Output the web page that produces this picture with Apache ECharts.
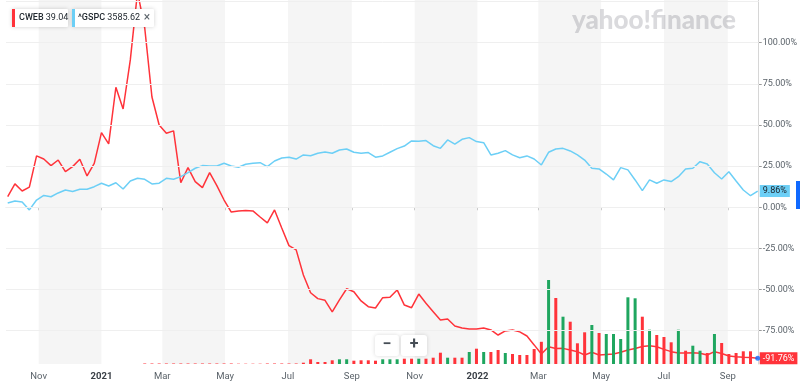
<!DOCTYPE html>
<html>
<head>
<meta charset="utf-8">
<script src="https://cdn.jsdelivr.net/npm/echarts@6/dist/echarts.min.js"></script>
<style>
html,body{margin:0;padding:0;background:#fff;}
#chart{width:800px;height:386px;}
</style>
</head>
<body>
<div id="chart"></div>
<script>
// Weekly dates (Fridays)
const dates = [
'2020-10-02','2020-10-09','2020-10-16','2020-10-23','2020-10-30','2020-11-06','2020-11-13','2020-11-20','2020-11-27','2020-12-04','2020-12-11','2020-12-18','2020-12-25',
'2021-01-01','2021-01-08','2021-01-15','2021-01-22','2021-01-29','2021-02-05','2021-02-12','2021-02-19','2021-02-26','2021-03-05','2021-03-12','2021-03-19','2021-03-26',
'2021-04-02','2021-04-09','2021-04-16','2021-04-23','2021-04-30','2021-05-07','2021-05-14','2021-05-21','2021-05-28','2021-06-04','2021-06-11','2021-06-18','2021-06-25',
'2021-07-02','2021-07-09','2021-07-16','2021-07-23','2021-07-30','2021-08-06','2021-08-13','2021-08-20','2021-08-27','2021-09-03','2021-09-10','2021-09-17','2021-09-24',
'2021-10-01','2021-10-08','2021-10-15','2021-10-22','2021-10-29','2021-11-05','2021-11-12','2021-11-19','2021-11-26','2021-12-03','2021-12-10','2021-12-17','2021-12-24','2021-12-31',
'2022-01-07','2022-01-14','2022-01-21','2022-01-28','2022-02-04','2022-02-11','2022-02-18','2022-02-25','2022-03-04','2022-03-11','2022-03-18','2022-03-25',
'2022-04-01','2022-04-08','2022-04-15','2022-04-22','2022-04-29','2022-05-06','2022-05-13','2022-05-20','2022-05-27','2022-06-03','2022-06-10','2022-06-17','2022-06-24',
'2022-07-01','2022-07-08','2022-07-15','2022-07-22','2022-07-29','2022-08-05','2022-08-12','2022-08-19','2022-08-26','2022-09-02','2022-09-09','2022-09-16','2022-09-23','2022-09-30'
];

// CWEB % change
const cwebPct = [
6.5, 14.2, 9.9, 12.2, 31.2, 29.3, 25.3, 28.7, 21.6, 24.7, 29.2, 19.0, 26.7,
45.3, 38.5, 72.9, 59.7, 89.5, 130.8, 108.9, 67.0, 50.0, 45.0, 46.4, 14.9, 24.1,
15.6, 11.9, 21.0, 13.1, 4.4, -2.9, -2.2, -1.9, -2.2, -5.9, -9.5, -1.6, -12.6,
-23.3, -25.9, -41.1, -51.9, -55.5, -56.5, -63.6, -56.3, -49.5, -51.3, -56.9, -60.4, -61.2,
-54.9, -54.7, -50.2, -59.4, -61.0, -52.7, -58.3, -63.4, -68.5, -67.9, -72.1, -73.3, -73.9, -73.9,
-73.3, -74.5, -77.6, -75.1, -74.5, -75.7, -78.2, -83.6, -89.1, -84.7, -85.8, -85.7,
-86.7, -87.7, -89.7, -88.1, -89.7, -89.4, -89.1, -88.1, -86.7, -85.8, -84.6, -84.1, -84.7,
-86.3, -87.7, -88.5, -88.5, -88.3, -88.7, -89.7, -87.7, -88.8, -90.3, -90.8, -91.1, -91.2, -91.76
];

// ^GSPC % change
const spxPct = [
2.6, 3.8, 3.2, -1.6, 4.4, 7.2, 6.4, 8.7, 10.5, 9.6, 10.9, 10.9, 12.5,
14.6, 12.9, 14.9, 11.1, 16.0, 17.6, 17.0, 14.2, 14.6, 17.6, 17.0, 18.6, 21.0,
23.7, 25.3, 25.1, 25.1, 26.7, 25.1, 24.3, 26.1, 26.7, 27.1, 24.7, 28.1, 29.9,
30.4, 29.3, 31.8, 31.3, 32.8, 33.6, 32.8, 34.8, 35.4, 33.4, 32.8, 33.2, 30.4,
31.2, 33.4, 35.6, 37.2, 40.3, 40.1, 40.5, 37.4, 35.8, 40.9, 38.3, 41.3, 42.3, 39.9,
39.2, 31.8, 32.8, 34.4, 31.8, 30.1, 31.2, 29.3, 25.7, 33.4, 35.4, 35.8,
34.2, 31.8, 28.7, 23.7, 23.3, 20.2, 16.6, 24.1, 22.7, 16.6, 10.1, 16.6, 14.6,
16.6, 15.6, 18.6, 23.3, 23.7, 27.7, 26.3, 21.0, 17.2, 21.6, 16.0, 10.5, 7.0, 9.86
];

// CWEB weekly volume (thousands of shares)
const cwebVolume = [
0, 0, 0, 0, 0, 0, 0, 0, 0, 0, 0, 0, 0,
0, 0, 0, 0, 0, 0, 5, 5, 5, 5, 5, 5, 5,
5, 5, 5, 5, 5, 5, 3, 3, 3, 3, 5, 5, 5,
5, 5, 13, 47, 20, 20, 37, 47, 47, 33, 37, 37, 33,
47, 47, 47, 53, 53, 53, 53, 63, 113, 63, 63, 63, 120, 153,
120, 120, 140, 110, 100, 90, 90, 150, 222, 840, 660, 473,
423, 207, 317, 390, 310, 300, 300, 250, 667, 657, 473, 343, 290,
270, 217, 343, 133, 183, 133, 110, 300, 210, 100, 110, 127, 127, 0
];

// 1 = up week (green), 0 = down week (red)
const volumeUp = [
0,0,0,0,0,0,0,0,0,0,0,0,0,
0,0,0,0,0,0,0,0,0,0,0,0,0,
0,0,0,0,0,0,0,0,0,0,0,0,0,
0,0,0,0,0,0,0,1,1,0,0,0,0,
1,1,1,0,0,1,0,0,0,1,0,0,1,0,
1,0,0,1,0,0,0,0,0,1,0,1,
0,0,0,1,0,1,1,1,1,1,0,1,0,
0,0,1,0,1,1,0,1,0,0,0,0,0,0
];

const yLabelTicks = [-75, -50, -25, 0, 25, 50, 75, 100];
const yGridTicks = [-75, -50, -25, 0, 25, 50, 75, 100, 125];
const xTickDates = ['2020-11-01','2021-01-01','2021-03-01','2021-05-01','2021-07-01','2021-09-01',
                    '2021-11-01','2022-01-01','2022-03-01','2022-05-01','2022-07-01','2022-09-01'];
const bands = [['2020-11-01','2021-01-01'],['2021-03-01','2021-05-01'],['2021-07-01','2021-09-01'],
               ['2021-11-01','2022-01-01'],['2022-03-01','2022-05-01'],['2022-07-01','2022-09-01']];
const symbols = ['CWEB', '^GSPC'];
const lastPrices = ['39.04', '3585.62'];
const monthNames = ['Jan','Feb','Mar','Apr','May','Jun','Jul','Aug','Sep','Oct','Nov','Dec'];

const RED = '#ff333a', BLUE = '#6ccff6', GREEN = '#1fa65f', ACCENT = '#0f69ff';

const toTs = s => { const p = s.split('-').map(Number); return Date.UTC(p[0], p[1]-1, p[2]); };
const xTickTs = xTickDates.map(toTs);
const fmtPct = v => v.toFixed(2) + '%';

const chart = echarts.init(document.getElementById('chart'), null, {renderer: 'canvas'});

const last = dates.length - 1;
const chipStyle = (sym, price) => ({
  text: '{b|' + sym + '} ' + price,
  verticalAlign: 'middle', fontSize: 9, fontFamily: 'Roboto', fill: '#232a31',
  rich: {b: {fontSize: 9, fontFamily: 'Roboto', fontWeight: 500, fill: '#232a31'}}
});

const option = {
  animation: false,
  backgroundColor: '#fff',
  grid: [{left: 6, right: 40, top: 0, bottom: 22}],
  xAxis: [{
    type: 'value',
    scale: true,
    min: Date.UTC(2020, 8, 30, 8),
    max: Date.UTC(2022, 9, 1),
    axisLine: {show: true, lineStyle: {color: '#e3e3e3', width: 1}},
    axisTick: {show: true, customValues: xTickTs, length: 3, lineStyle: {color: '#cfcfcf'}},
    axisLabel: {
      customValues: xTickTs,
      margin: 8,
      fontSize: 9.5,
      fontFamily: 'Roboto',
      color: '#5b636a',
      formatter: function (v) {
        const d = new Date(v);
        const m = d.getUTCMonth();
        if (m === 0) return '{y|' + d.getUTCFullYear() + '}';
        return monthNames[m];
      },
      rich: {y: {fontSize: 9.5, fontWeight: 'bold', color: '#3a4047', fontFamily: 'Roboto'}}
    },
    splitLine: {show: false}
  }],
  yAxis: [{
    type: 'value',
    position: 'right',
    min: -95.2,
    max: 125.9,
    axisLine: {show: true, lineStyle: {color: '#d6d6d6'}},
    axisTick: {show: true, customValues: yLabelTicks, length: 3, lineStyle: {color: '#9a9a9a'}},
    axisLabel: {customValues: yLabelTicks, formatter: fmtPct, fontSize: 9, fontFamily: 'Roboto', color: '#5b636a', margin: 4},
    splitLine: {show: false}
  }, {
    type: 'value',
    min: 0,
    max: 3640,
    show: false
  }],
  series: [
    {
      type: 'line',
      data: [],
      silent: true,
      z: 1,
      markArea: {
        silent: true,
        itemStyle: {color: 'rgba(0,0,0,0.04)'},
        data: bands.map(b => [{xAxis: toTs(b[0])}, {xAxis: toTs(b[1])}])
      },
      markLine: {
        silent: true,
        symbol: 'none',
        label: {show: false},
        lineStyle: {color: '#efefef', width: 1, type: 'solid'},
        data: yGridTicks.map(v => ({yAxis: v}))
      }
    },
    {
      name: 'CWEB',
      type: 'line',
      data: dates.map((d, i) => [toTs(d), cwebPct[i]]),
      symbol: 'none',
      z: 3,
      lineStyle: {color: RED, width: 1.5},
      itemStyle: {color: RED},
      endLabel: {
        show: true, formatter: p => fmtPct(p.value[1]), distance: 2,
        backgroundColor: RED, color: '#fff', fontSize: 9, fontFamily: 'Roboto', padding: [2, 3, 1, 3]
      }
    },
    {
      name: '^GSPC',
      type: 'line',
      data: dates.map((d, i) => [toTs(d), spxPct[i]]),
      symbol: 'none',
      z: 3,
      lineStyle: {color: BLUE, width: 1.5},
      itemStyle: {color: BLUE},
      endLabel: {
        show: true, formatter: p => fmtPct(p.value[1]), distance: 2,
        backgroundColor: BLUE, color: '#1d2228', fontSize: 9, fontFamily: 'Roboto', padding: [2, 3, 1, 3]
      }
    },
    {
      name: 'Volume',
      type: 'bar',
      yAxisIndex: 1,
      barWidth: 3,
      z: 4,
      data: dates.map((d, i) => ({
        value: [toTs(d), cwebVolume[i]],
        itemStyle: {color: volumeUp[i] ? GREEN : RED}
      }))
    },
    {
      type: 'scatter',
      data: [[toTs(dates[last]), cwebPct[last]]],
      symbolSize: 5,
      z: 6,
      itemStyle: {color: ACCENT},
      silent: true
    }
  ],
  graphic: [
    {
      type: 'text', left: 572, top: 8, z: 0,
      style: {text: 'yahoo!finance', fontSize: 26, fontWeight: 900, fontFamily: 'Lato', fill: '#dadadd'}
    },
    {type: 'rect', shape: {x: 12, y: 9, width: 56, height: 18, r: 1}, style: {fill: '#fff', shadowBlur: 4, shadowColor: 'rgba(0,0,0,0.18)'}, z: 10},
    {type: 'rect', shape: {x: 12, y: 9, width: 3, height: 18}, style: {fill: RED}, z: 11},
    {type: 'text', x: 19, y: 18, z: 11, style: chipStyle(symbols[0], lastPrices[0])},
    {type: 'rect', shape: {x: 72, y: 9, width: 82, height: 18, r: 1}, style: {fill: '#fff', shadowBlur: 4, shadowColor: 'rgba(0,0,0,0.18)'}, z: 10},
    {type: 'rect', shape: {x: 72, y: 9, width: 3, height: 18}, style: {fill: BLUE}, z: 11},
    {type: 'text', x: 78, y: 18, z: 11, style: chipStyle(symbols[1], lastPrices[1])},
    {type: 'text', x: 147, y: 18, z: 11, style: {text: '×', align: 'center', verticalAlign: 'middle', fontSize: 12, fontFamily: 'Roboto', fill: '#5b636a'}},
    {type: 'rect', shape: {x: 375, y: 335, width: 24, height: 21, r: 3}, style: {fill: '#fff', shadowBlur: 4, shadowColor: 'rgba(0,0,0,0.15)'}, z: 10},
    {type: 'rect', shape: {x: 401, y: 335, width: 26, height: 21, r: 3}, style: {fill: '#fff', shadowBlur: 4, shadowColor: 'rgba(0,0,0,0.15)'}, z: 10},
    {type: 'text', x: 387, y: 345, z: 11, style: {text: '−', align: 'center', verticalAlign: 'middle', fontSize: 16, fontWeight: 'bold', fontFamily: 'Roboto', fill: '#464e56'}},
    {type: 'text', x: 414, y: 345, z: 11, style: {text: '+', align: 'center', verticalAlign: 'middle', fontSize: 16, fontWeight: 'bold', fontFamily: 'Roboto', fill: '#464e56'}},
    {type: 'rect', shape: {x: 796, y: 181, width: 4, height: 28}, style: {fill: ACCENT}, z: 10}
  ]
};

chart.setOption(option);
</script>
</body>
</html>
